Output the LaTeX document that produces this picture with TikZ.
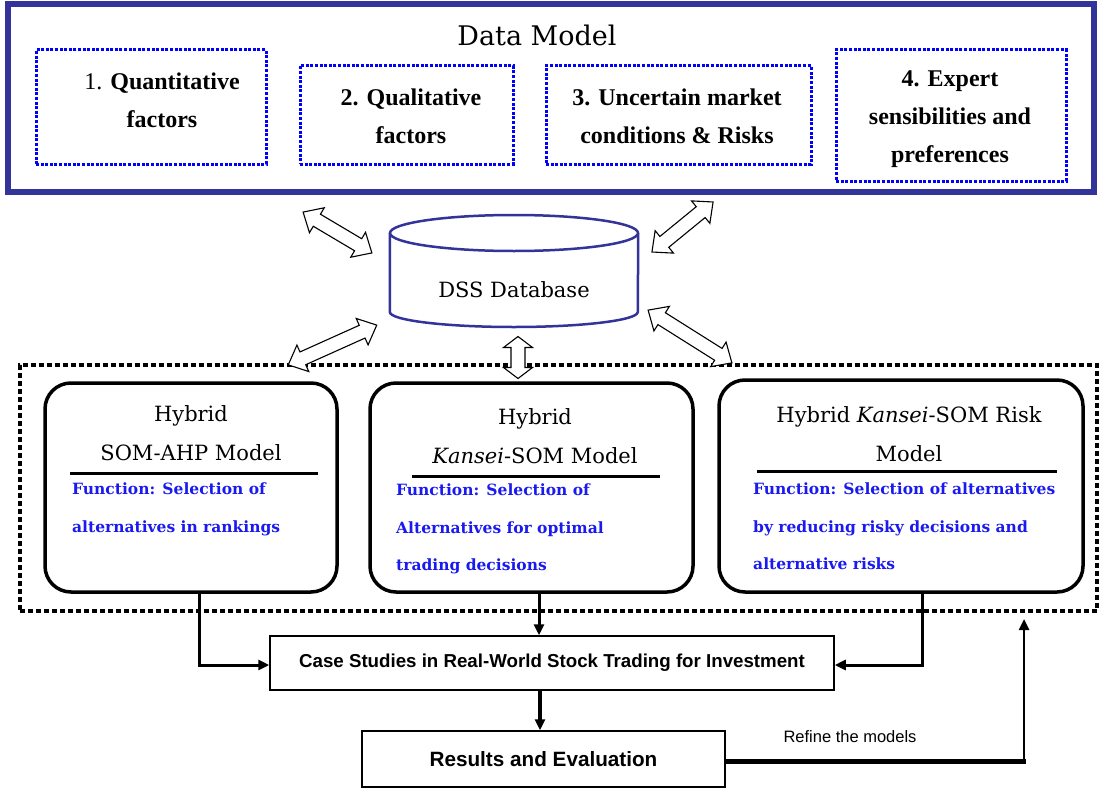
\documentclass[tikz,border=0pt]{standalone}
\usepackage{fontspec}
\usetikzlibrary{arrows.meta}
\newfontfamily\cent{DejaVu Serif}
\newfontfamily\tms{Liberation Serif}
\newfontfamily\ars{Liberation Sans}
\definecolor{navy}{RGB}{51,51,153}
\definecolor{fnblue}{RGB}{25,25,240}
% hollow two-headed arrow: centre x, centre y, angle, length, head length
\newcommand\hollowarrow[5]{%
  \begin{scope}[shift={(#1,#2)}, rotate=#3]
    \draw[black, fill=white, line width=1.1, line join=miter]
      ({-#4/2},0) -- ({-#4/2+#5},14.5) -- ({-#4/2+#5},7) -- ({#4/2-#5},7) -- ({#4/2-#5},14.5)
      -- ({#4/2},0) -- ({#4/2-#5},-14.5) -- ({#4/2-#5},-7) -- ({-#4/2+#5},-7) -- ({-#4/2+#5},-14.5) -- cycle;
  \end{scope}}
\begin{document}
\begin{tikzpicture}[x=1pt,y=-1pt,
  factor/.style={draw=blue, line width=3, dash pattern=on 3pt off 1.6pt, rectangle, inner sep=0},
  factortxt/.style={align=center, inner sep=0, font=\tms\bfseries\fontsize{24}{38}\selectfont},
  model/.style={draw, line width=3.5, rounded corners=26, inner sep=0, rectangle},
  modeltitle/.style={align=center, inner sep=0, font=\cent\fontsize{21}{39}\selectfont},
  fntxt/.style={align=left, inner sep=0, anchor=north west, text=fnblue, font=\cent\bfseries\fontsize{15.5}{37.5}\selectfont},
  stage/.style={draw, line width=1.5, rectangle, inner sep=0},
  conn/.style={line width=3, -{Triangle[length=11pt,width=10pt]}}]
\useasboundingbox (0,0) rectangle (1099,789);

% ---- data model frame and its four inputs ----
\node[draw=navy, line width=6, minimum width=1086, minimum height=187, inner sep=0] (dm) at (551,98) {};
\node[inner sep=0, font=\cent\fontsize{27}{30}\selectfont] (dmtitle) at (537,35) {Data Model};

\node[factor, minimum width=230, minimum height=114] (f1) at (151,107) {};
\node[factor, minimum width=213, minimum height=98] (f2) at (406.5,115) {};
\node[factor, minimum width=265, minimum height=98] (f3) at (678.5,115) {};
\node[factor, minimum width=230, minimum height=131] (f4) at (951,115.5) {};

\node[factortxt] (t1) at (162,100) {{\mdseries 1.} Quantitative\\factors};
\node[factortxt] (t2) at (411,116) {2. Qualitative\\factors};
\node[factortxt] (t3) at (677,116) {3. Uncertain market\\conditions \& Risks};
\node[factortxt] (t4) at (950,119) {4. Expert\\sensibilities and\\preferences};

% ---- database ----
\node[inner sep=0, minimum width=248, minimum height=112] (db) at (514,271) {};
\draw[navy, line width=2.5, fill=white] (db.west |- 0,233) -- (db.west |- 0,312)
  arc[start angle=180, end angle=0, x radius=124, y radius=15] -- (db.east |- 0,233);
\draw[navy, line width=2.5, fill=white] (db.center |- 0,233) ellipse[x radius=124, y radius=18];
\node[inner sep=0, font=\cent\fontsize{21}{24}\selectfont] (dbtxt) at (514,290) {DSS Database};

% ---- model group ----
\node[draw, line width=4, dash pattern=on 5pt off 3pt, minimum width=1077, minimum height=246, inner sep=0] (grp) at (558.5,488) {};

\node[model, minimum width=292, minimum height=209] (m1) at (191,487.5) {};
\node[model, minimum width=323, minimum height=209] (m2) at (531.5,487.5) {};
\node[model, minimum width=364, minimum height=212] (m3) at (901,486) {};

\node[modeltitle] (h1) at (191,433) {Hybrid\\SOM-AHP Model};
\node[modeltitle] (h2) at (535,436) {Hybrid\\{\itshape Kansei}-SOM Model};
\node[modeltitle] (h3) at (909,434) {Hybrid {\itshape Kansei}-SOM Risk\\Model};

\draw[line width=3] (70,473) -- (318,473);
\draw[line width=3] (412,476) -- (660,476);
\draw[line width=3] (757,471) -- (1057,471);

\node[fntxt] (b1) at (72,483) {Function: Selection of\\alternatives in rankings};
\node[fntxt] (b2) at (396,484) {Function: Selection of\\Alternatives for optimal\\trading decisions};
\node[fntxt] (b3) at (753,483) {Function: Selection of alternatives\\by reducing risky decisions and\\alternative risks};

% ---- exchange arrows with the database ----
\hollowarrow{337.5}{232.5}{-30.7}{80}{16}
\hollowarrow{682.5}{227}{39.3}{79}{16}
\hollowarrow{332.5}{345}{24.2}{97}{16}
\hollowarrow{690}{336.5}{-32.2}{99}{16}
\hollowarrow{518}{357.5}{90}{42}{11}

% ---- evaluation stages ----
\node[stage, minimum width=564, minimum height=54, font=\ars\bfseries\fontsize{18.7}{20}\selectfont] (cs) at (552,663)
  {Case Studies in Real-World Stock Trading for Investment};
\node[stage, minimum width=363, minimum height=56, font=\ars\bfseries\fontsize{20.7}{22}\selectfont] (re) at (543.5,759)
  {Results and Evaluation};
\node[inner sep=0, font=\ars\fontsize{16.5}{18}\selectfont] (rf) at (850,737) {Refine the models};

\draw[conn] ([xshift=8pt]m1.south) |- ([yshift=-2pt]cs.west);
\draw[conn] ([xshift=7.5pt]m2.south) -- ([xshift=7.5pt]m2.south |- cs.north);
\draw[conn] ([xshift=21pt]m3.south) |- ([yshift=-2pt]cs.east);
\draw[conn, line width=4] ([xshift=-12pt]cs.south) -- ([xshift=-12pt]cs.south |- re.north);

\coordinate (fb) at (1024,761);
\draw[line width=5] ([yshift=-2pt]re.east) -- ([xshift=2pt]fb);
\draw[line width=2.5, -{Triangle[length=11pt,width=10pt]}, shorten >=6pt] ([yshift=-2pt]fb) -- (fb |- grp.south);
\end{tikzpicture}
\end{document}
